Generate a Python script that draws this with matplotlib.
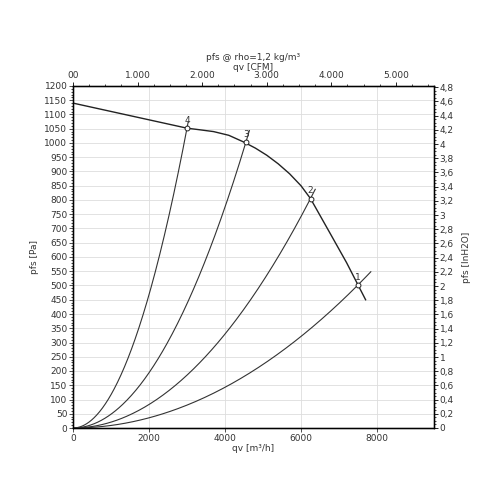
import numpy as np
import matplotlib
matplotlib.use("Agg")
import matplotlib.pyplot as plt
from matplotlib.ticker import MultipleLocator, FuncFormatter

# Fan curve (qv m3/h, pfs Pa)
fan_q = [0, 1500, 3000, 3300, 3700, 4100, 4500, 4800, 5100, 5400, 5700, 6000, 6250, 6800, 7200, 7500, 7700]
fan_p = [1140, 1096, 1052, 1047, 1040, 1027, 1003, 982, 957, 927, 892, 850, 805, 675, 580, 502, 450]

# Operating points
pt_labels = ["1", "2", "3", "4"]
pt_q = [7500, 6250, 4550, 3000]
pt_p = [502, 805, 1003, 1052]
pt_ext = [1.045, 1.02, 1.02, 1.01]

cfm_ticks = [0, 1000, 2000, 3000, 4000, 5000]
cfm_labels = ["00", "1.000", "2.000", "3.000", "4.000", "5.000"]

M3H_PER_CFM = 1.699
PA_PER_INH2O = 249.089

fig = plt.figure(figsize=(5, 5), dpi=100)
ax = fig.add_axes([0.146, 0.144, 0.722, 0.684])
fs = 6.5
ax.set_xlim(0, 9500)
ax.set_ylim(0, 1200)

ax.xaxis.set_major_locator(MultipleLocator(2000))
ax.yaxis.set_major_locator(MultipleLocator(50))
ax.yaxis.set_minor_locator(MultipleLocator(10))
ax.grid(True, which="major", color="#dddddd", linewidth=0.6)
ax.set_axisbelow(True)
ax.tick_params(axis="both", labelsize=fs, length=3, width=0.6, pad=1, color="#333333", labelcolor="#333333")
ax.tick_params(axis="y", which="minor", length=1.5, width=0.5)
for s in ax.spines.values():
    s.set_linewidth(1.0)
ax.set_xlabel("qv [m³/h]", fontsize=fs, labelpad=1, color="#333333")
ax.set_ylabel("pfs [Pa]", fontsize=fs, labelpad=4, color="#333333")

# Fan curve
ax.plot(fan_q, fan_p, color="#222222", linewidth=1.0, zorder=3)

# System curves
for lab, q, p, e in zip(pt_labels, pt_q, pt_p, pt_ext):
    qq = np.linspace(0, q * e, 200)
    ax.plot(qq, p * (qq / q) ** 2, color="#333333", linewidth=0.8, zorder=3)
    ax.plot([q], [p], marker="o", markersize=3.5, markerfacecolor="white",
            markeredgecolor="#222222", markeredgewidth=0.7, zorder=4)
    ax.text(q, p + 12, lab, fontsize=fs, ha="center", va="bottom", color="#333333", zorder=5)

# Top axis CFM
axt = ax.twiny()
axt.set_xlim(0, 9500 / M3H_PER_CFM)
axt.set_xticks(cfm_ticks)
axt.set_xticklabels(cfm_labels)
axt.xaxis.set_minor_locator(MultipleLocator(250))
axt.tick_params(axis="x", labelsize=fs, length=3, width=0.6, pad=1, labelcolor="#333333")
axt.tick_params(axis="x", which="minor", length=1.5, width=0.5)
axt.set_xlabel("qv [CFM]", fontsize=fs, labelpad=1, color="#333333")
axt.set_title("pfs @ rho=1,2 kg/m³", fontsize=fs, pad=2, color="#333333")

# Right axis inH2O
axr = ax.twinx()
axr.set_ylim(0, 1200 / PA_PER_INH2O)
axr.yaxis.set_major_locator(MultipleLocator(0.2))
axr.yaxis.set_minor_locator(MultipleLocator(0.05))
axr.yaxis.set_major_formatter(FuncFormatter(lambda v, p: ("%g" % round(v, 1)).replace(".", ",")))
axr.tick_params(axis="y", labelsize=fs, length=3, width=0.6, pad=1, labelcolor="#333333")
axr.tick_params(axis="y", which="minor", length=1.5, width=0.5)
axr.set_ylabel("pfs [InH2O]", fontsize=fs, labelpad=6, color="#333333")

fig.savefig("out.png", dpi=100)
